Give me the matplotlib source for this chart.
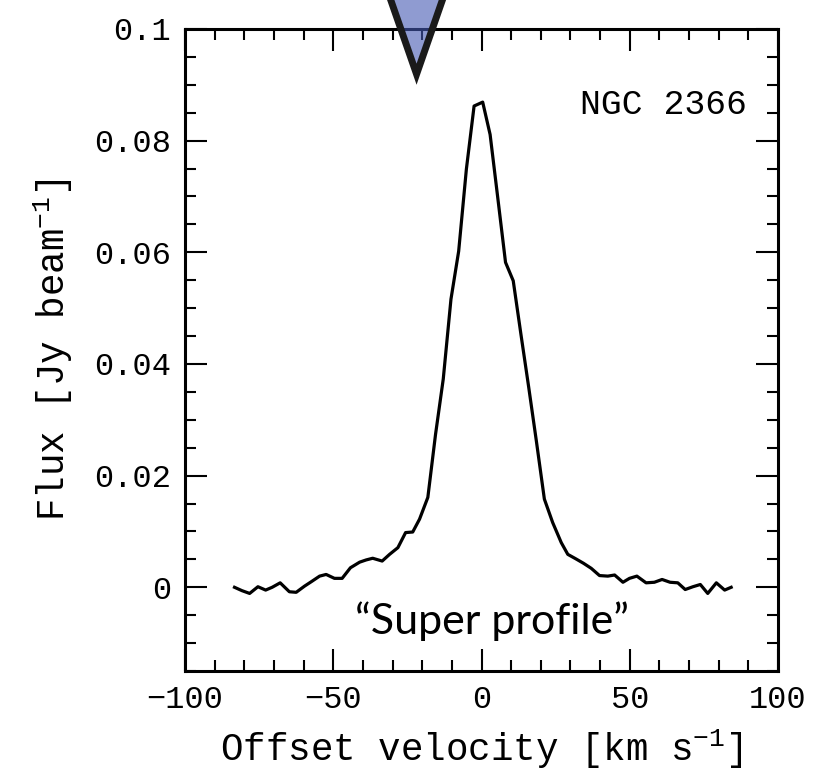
import numpy as np
import matplotlib
matplotlib.use('Agg')
import matplotlib.pyplot as plt
from matplotlib.patches import Polygon
from matplotlib.ticker import MultipleLocator

# super profile
velocity = [-83.3, -80.8, -78.2, -75.4, -72.8, -70.6, -67.9, -64.8, -62.5, -59.7,
            -57.4, -54.6, -52.4, -49.6, -47.0, -44.2, -41.1, -38.9, -36.7, -33.5,
            -31.0, -28.2, -25.6, -23.2, -20.9, -18.1, -15.5, -12.9, -10.3, -7.7,
            -5.1, -2.5, 0.4, 2.9, 5.5, 8.1, 10.7, 13.3, 15.9, 18.5,
            21.2, 24.0, 26.9, 29.1, 31.8, 34.4, 37.0, 39.8, 42.6, 44.9,
            47.7, 49.9, 52.4, 55.5, 58.3, 60.9, 63.6, 66.2, 68.7, 71.3,
            73.8, 76.3, 79.2, 82.0, 84.2]
flux = [0.0000, -0.0006, -0.0011, 0.0001, -0.0005, 0.0000, 0.0008, -0.0008, -0.0009, 0.0002,
        0.0010, 0.0020, 0.0023, 0.0016, 0.0016, 0.0035, 0.0045, 0.0049, 0.0052, 0.0047,
        0.0059, 0.0071, 0.0098, 0.0099, 0.0122, 0.0161, 0.0274, 0.0373, 0.0516, 0.0602,
        0.0749, 0.0862, 0.0869, 0.0811, 0.0697, 0.0582, 0.0549, 0.0453, 0.0359, 0.0262,
        0.0158, 0.0116, 0.0080, 0.0059, 0.0051, 0.0043, 0.0034, 0.0021, 0.0020, 0.0022,
        0.0009, 0.0016, 0.0020, 0.0008, 0.0009, 0.0014, 0.0009, 0.0008, -0.0004, 0.0001,
        0.0005, -0.0011, 0.0008, -0.0005, 0.0000]

xticks = [-100, -50, 0, 50, 100]
xticklabels = ['\u2212100', '\u221250', '0', '50', '100']
yticks = [0, 0.02, 0.04, 0.06, 0.08, 0.1]
yticklabels = ['0', '0.02', '0.04', '0.06', '0.08', '0.1']

# triangle marker above the frame
marker_v = -21.9
marker_tip = 0.0919

plt.rcParams['font.family'] = 'Liberation Mono'
plt.rcParams['mathtext.fontset'] = 'custom'
plt.rcParams['mathtext.rm'] = 'Liberation Mono'
plt.rcParams['mathtext.default'] = 'regular'

fig = plt.figure(figsize=(8.2, 7.81), dpi=100)
ax = fig.add_axes([0.2256, 0.1408, 0.7232, 0.8221])

ax.plot(velocity, flux, color='k', lw=2.3)

ax.set_xlim(-100, 100)
ax.set_ylim(-0.015, 0.1)
ax.set_xticks(xticks)
ax.set_xticklabels(xticklabels)
ax.set_yticks(yticks)
ax.set_yticklabels(yticklabels)
ax.xaxis.set_minor_locator(MultipleLocator(10))
ax.yaxis.set_minor_locator(MultipleLocator(0.005))
ax.tick_params(which='both', direction='in', top=True, right=True, width=1.5, labelsize=23)
ax.tick_params(which='major', length=16, pad=10)
ax.tick_params(which='minor', length=8)
for s in ax.spines.values():
    s.set_linewidth(2.2)

ax.set_xlabel('Offset velocity [km s$^{-1}$]', fontsize=27, labelpad=8)
ax.set_ylabel('Flux [Jy beam$^{-1}$]', fontsize=27, labelpad=14)

ax.text(89.7, 0.0865, 'NGC 2366', fontsize=25, ha='right', va='center')
ax.text(3.4, -0.006, '\u201cSuper profile\u201d', fontsize=31, ha='center', va='center',
        family='Lato')

half_w = 13.5
tri = Polygon([[marker_v - half_w, 0.1125], [marker_v + half_w, 0.1125], [marker_v, marker_tip]],
              closed=True, facecolor=(0.27, 0.35, 0.70, 0.6), edgecolor='#1a1a1a',
              lw=5, joinstyle='miter', clip_on=False, zorder=5)
ax.add_patch(tri)

fig.savefig('out.png', dpi=100)
